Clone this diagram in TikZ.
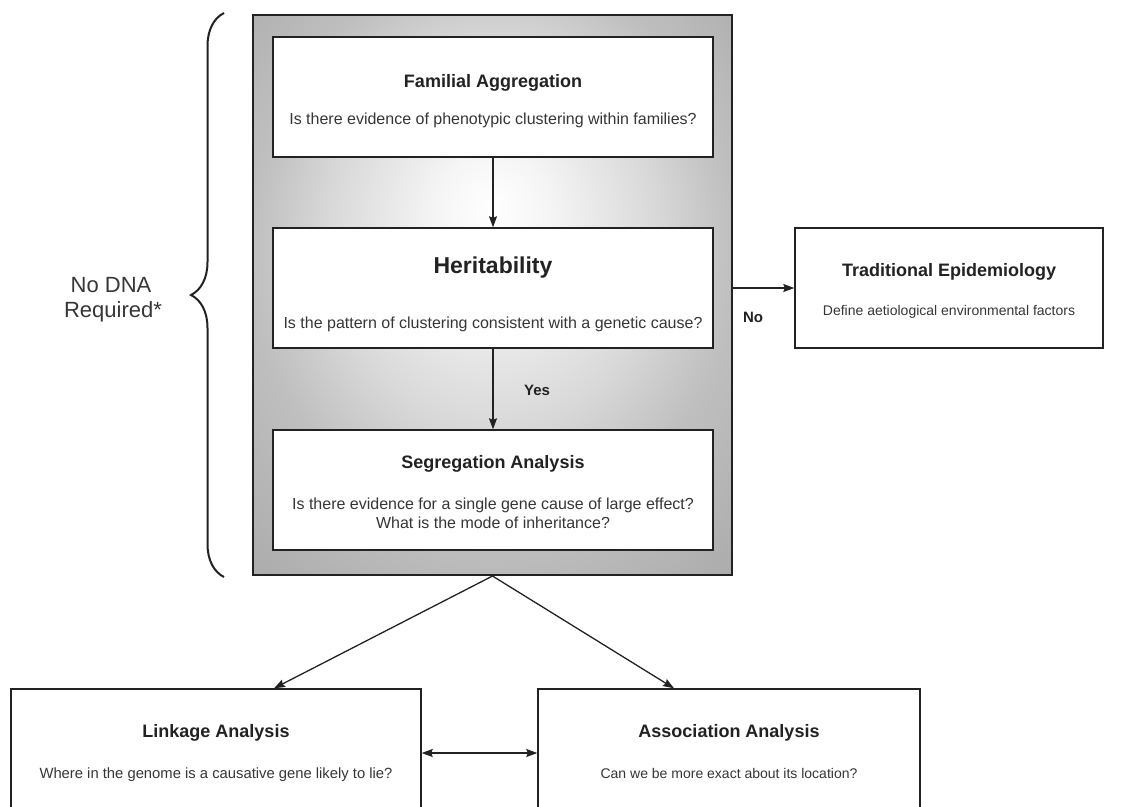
\documentclass[tikz,border=0pt]{standalone}
\usepackage{fontspec}
\setmainfont{Liberation Sans}
\usetikzlibrary{arrows.meta,decorations.pathreplacing}

% soft glow for the grey panel, brighter slightly above its centre
\pgfdeclareradialshading{panelglow}{\pgfpoint{0bp}{8bp}}{%
  color(0bp)=(white); color(6bp)=(white!96!black); color(17bp)=(gray!30);
  color(25bp)=(gray!50); color(36bp)=(gray!64); color(50bp)=(gray!64)}
\definecolor{ink}{HTML}{222222}
\definecolor{bodyink}{HTML}{363636}

\begin{document}
\begin{tikzpicture}[x=1pt,y=-1pt,
  box/.style={draw=ink, line width=1.4pt, fill=white, inner sep=0pt},
  ttl/.style={font=\bfseries\fontsize{18}{21}\selectfont, text=ink, anchor=base, inner sep=0pt},
  bigttl/.style={font=\bfseries\fontsize{23}{27}\selectfont, text=ink, anchor=base, inner sep=0pt},
  txt/.style={font=\fontsize{14}{17}\selectfont, text=bodyink, anchor=base, inner sep=0pt},
  bigtxt/.style={txt, font=\fontsize{16}{19}\selectfont},
  lbl/.style={font=\bfseries\fontsize{15}{18}\selectfont, text=ink, anchor=base, inner sep=0pt},
  side/.style={font=\fontsize{22}{26}\selectfont, text=bodyink, anchor=base, inner sep=0pt},
  conn/.style={draw=ink, line width=1.3pt, -{Stealth[length=11pt,width=8pt,inset=1.5pt]}},
  biconn/.style={draw=ink, line width=1.3pt, {Stealth[length=11pt,width=8pt,inset=1.5pt]}-{Stealth[length=11pt,width=8pt,inset=1.5pt]}},
]
\useasboundingbox (0,0) rectangle (1131,806);
\clip (0,0) rectangle (1131,806);

% grey panel holding the three pre-DNA stages
\node[draw=ink, line width=2pt, shading=panelglow, minimum width=479pt, minimum height=560pt, inner sep=0pt] (panel) at (492.5,295) {};

% stage boxes
\node[box, minimum width=440pt, minimum height=120pt] (fam) at (493,97) {};
\node[box, minimum width=440pt, minimum height=120pt] (her) at (493,288) {};
\node[box, minimum width=440pt, minimum height=120pt] (seg) at (493,490) {};
\node[box, minimum width=308pt, minimum height=120pt] (trad) at (949,288) {};
\node[box, minimum width=410pt, minimum height=124pt] (link) at (216,751) {};
\node[box, minimum width=382pt, minimum height=124pt] (assoc) at (729,751) {};

% box texts
\node[ttl] (famT) at (493,87) {Familial Aggregation};
\node[bigtxt] (famB) at (493,124) {Is there evidence of phenotypic clustering within families?};

\node[bigttl] (herT) at (493,273) {Heritability};
\node[bigtxt] (herB) at (493,328) {Is the pattern of clustering consistent with a genetic cause?};

\node[ttl] (segT) at (493,468) {Segregation Analysis};
\node[bigtxt] (segB1) at (493,509) {Is there evidence for a single gene cause of large effect?};
\node[bigtxt] (segB2) at (493,528) {What is the mode of inheritance?};

\node[ttl] (tradT) at (949,276) {Traditional Epidemiology};
\node[txt] (tradB) at (949,315) {Define aetiological environmental factors};

\node[ttl] (linkT) at (216,737) {Linkage Analysis};
\node[txt, font=\fontsize{14.8}{17}\selectfont] (linkB) at (216,778) {Where in the genome is a causative gene likely to lie?};

\node[ttl] (assocT) at (729,737) {Association Analysis};
\node[txt] (assocB) at (729,778) {Can we be more exact about its location?};

% connectors
\draw[conn] (fam.south) -- (her.north);
\draw[conn] (her.south) -- (seg.north);
\node[lbl] (yes) at (537,395) {Yes};
\draw[conn] (panel.east |- trad.west) -- (trad.west);
\node[lbl] (no) at (753,322) {No};
\draw[conn] (panel.south) -- ([xshift=58pt]link.north);
\draw[conn] (panel.south) -- ([xshift=-55pt]assoc.north);
\draw[biconn] ([yshift=-2pt]link.east) -- ([yshift=-2pt]assoc.west);

% brace and its caption
\draw[decorate, decoration={brace, amplitude=33pt, aspect=0.5}, draw=ink, line width=2pt] (224,577) -- (224,13);
\node[side] (nodna1) at (111,292) {No DNA};
\node[side] (nodna2) at (113,317) {Required*};
\end{tikzpicture}
\end{document}
